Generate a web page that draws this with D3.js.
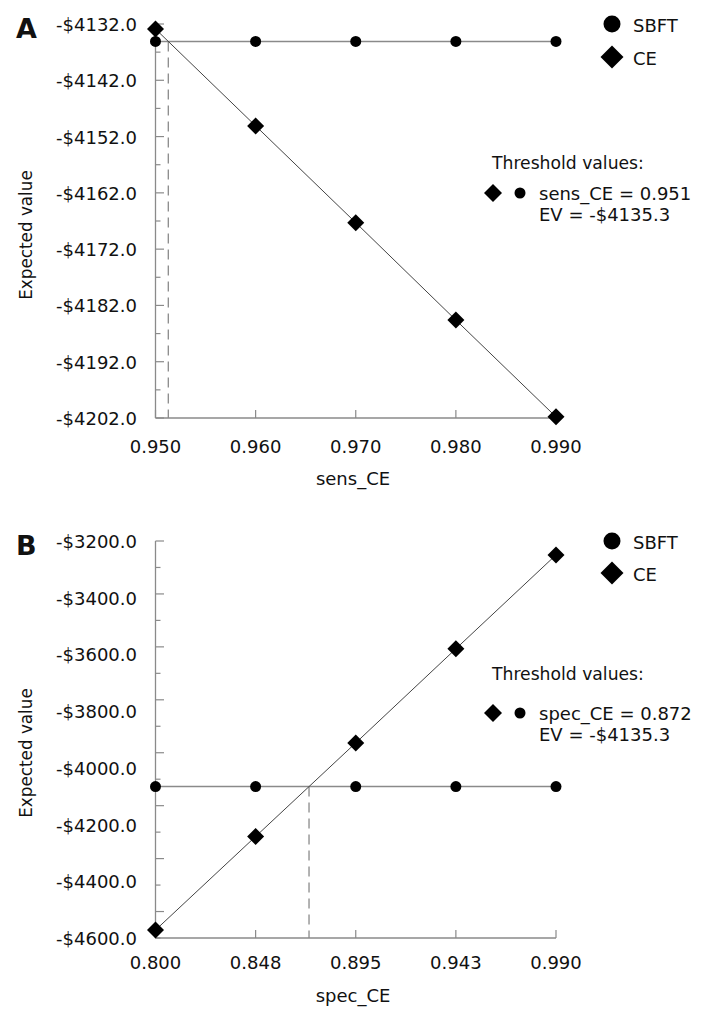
<!DOCTYPE html>
<html>
<head>
<meta charset="utf-8">
<script src="https://cdn.jsdelivr.net/npm/d3@7"></script>
<style>
  html, body { margin: 0; padding: 0; background: #fff; }
  svg text { font-family: "DejaVu Sans", Verdana, sans-serif; fill: #111; }
</style>
</head>
<body>
<svg id="chart" width="709" height="1015"></svg>
<script>
// ---------- Data ----------
// Panel A: sensitivity of CE
const sensX = [0.950, 0.960, 0.970, 0.980, 0.990];
const sensXLabels = ["0.950", "0.960", "0.970", "0.980", "0.990"];
const sensSBFT = [-4135.1, -4135.1, -4135.1, -4135.1, -4135.1];
const sensCE = [-4132.9, -4150.1, -4167.3, -4184.6, -4201.8];
const sensYValues = [-4132, -4142, -4152, -4162, -4172, -4182, -4192, -4202];
const sensYLabels = ["-$4132.0", "-$4142.0", "-$4152.0", "-$4162.0", "-$4172.0", "-$4182.0", "-$4192.0", "-$4202.0"];
const sensThresholdText = ["sens_CE = 0.951", "EV = -$4135.3"];

// Panel B: specificity of CE
const specX = [0.800, 0.8475, 0.895, 0.9425, 0.990];
const specXLabels = ["0.800", "0.848", "0.895", "0.943", "0.990"];
const specSBFT = [-4066, -4066, -4066, -4066, -4066];
const specCE = [-4572, -4242, -3912, -3580, -3249];
const specYValues = [-3200, -3400, -3600, -3800, -4000, -4200, -4400, -4600];
const specYLabels = ["-$3200.0", "-$3400.0", "-$3600.0", "-$3800.0", "-$4000.0", "-$4200.0", "-$4400.0", "-$4600.0"];
const specThresholdText = ["spec_CE = 0.872", "EV = -$4135.3"];

const seriesNames = ["SBFT", "CE"];

// ---------- Drawing ----------
const svg = d3.select("#chart");
const axisColor = "#8a8a8a";

function diamondPath(cx, cy, h) {
  return `M${cx},${cy - h}L${cx + h},${cy}L${cx},${cy + h}L${cx - h},${cy}Z`;
}

// crossing point of the two series (threshold) from the data
function crossing(xs, a, b) {
  for (let i = 0; i < xs.length - 1; i++) {
    const d0 = a[i] - b[i], d1 = a[i + 1] - b[i + 1];
    if (d0 === 0) return [xs[i], a[i]];
    if (d0 * d1 < 0) {
      const t = d0 / (d0 - d1);
      return [xs[i] + t * (xs[i + 1] - xs[i]), a[i] + t * (a[i + 1] - a[i])];
    }
  }
  return [xs[0], a[0]];
}

function drawPanel(p) {
  const g = svg.append("g");
  const x = d3.scaleLinear().domain([p.xs[0], p.xs[p.xs.length - 1]]).range([p.left, p.right]);
  const y = d3.scaleLinear().domain([p.yDomain[0], p.yDomain[1]]).range([p.bottom, p.top]);

  // panel letter
  g.append("text").attr("x", 16).attr("y", p.letterY)
    .style("font-weight", "bold").style("font-size", "27px").text(p.letter);

  // y axis line + ticks
  g.append("line").attr("x1", p.left).attr("x2", p.left).attr("y1", p.top).attr("y2", p.bottom)
    .attr("stroke", axisColor).attr("stroke-width", 1.3);
  const nT = p.nTicks;
  const tickVals = d3.range(nT).map(i => p.yDomain[1] - i * (p.yDomain[1] - p.yDomain[0]) / (nT - 1));
  g.selectAll(".yt").data(tickVals).enter().append("line")
    .attr("x1", p.left).attr("x2", (d, i) => p.left + (i % 2 === 0 ? 8.5 : 5))
    .attr("y1", d => y(d)).attr("y2", d => y(d))
    .attr("stroke", axisColor).attr("stroke-width", 1.2);
  g.selectAll(".yl").data(p.yValues).enter().append("text")
    .attr("x", 137).attr("y", d => y(d) + 7)
    .attr("text-anchor", "end").style("font-size", "18px")
    .text((d, i) => p.yLabels[i]);

  // x axis line + ticks
  g.append("line").attr("x1", p.left).attr("x2", p.right).attr("y1", p.bottom).attr("y2", p.bottom)
    .attr("stroke", axisColor).attr("stroke-width", 1.3);
  g.selectAll(".xt").data(p.xs).enter().append("line")
    .attr("x1", d => x(d)).attr("x2", d => x(d))
    .attr("y1", p.bottom).attr("y2", p.bottom - 8)
    .attr("stroke", axisColor).attr("stroke-width", 1.2);
  g.selectAll(".xl").data(p.xs).enter().append("text")
    .attr("x", d => x(d)).attr("y", p.bottom + p.xLabelOff)
    .attr("text-anchor", "middle").style("font-size", "18px")
    .text((d, i) => p.xLabels[i]);

  // axis titles
  g.append("text").attr("x", 353).attr("y", p.bottom + p.xTitleOff)
    .attr("text-anchor", "middle").style("font-size", "18px").text(p.xTitle);
  g.append("text")
    .attr("transform", `translate(32,${p.yTitleY}) rotate(-90)`)
    .attr("text-anchor", "middle").style("font-size", "16.8px").text("Expected value");

  // threshold dashed line
  const cr = crossing(p.xs, p.ce, p.sbft);
  g.append("line")
    .attr("x1", x(cr[0])).attr("x2", x(cr[0]))
    .attr("y1", y(cr[1])).attr("y2", p.bottom)
    .attr("stroke", "#8a8a8a").attr("stroke-width", 1.3).attr("stroke-dasharray", "10,6");

  // SBFT line
  const line = d3.line().x(d => x(d[0])).y(d => y(d[1]));
  g.append("path").datum(p.xs.map((d, i) => [d, p.sbft[i]]))
    .attr("d", line).attr("fill", "none").attr("stroke", "#8a8a8a").attr("stroke-width", 1.6);
  // CE line
  g.append("path").datum(p.xs.map((d, i) => [d, p.ce[i]]))
    .attr("d", line).attr("fill", "none").attr("stroke", "#444").attr("stroke-width", 1);

  // SBFT points
  g.selectAll(".sp").data(p.xs).enter().append("circle")
    .attr("cx", d => x(d)).attr("cy", (d, i) => y(p.sbft[i])).attr("r", 5.5).attr("fill", "#000");
  // CE points
  g.selectAll(".cp").data(p.xs).enter().append("path")
    .attr("d", (d, i) => diamondPath(x(d), y(p.ce[i]), 8.5)).attr("fill", "#000");

  // legend
  const L = p.legend;
  g.append("circle").attr("cx", 612).attr("cy", L.sbftY).attr("r", 8.5).attr("fill", "#000");
  g.append("text").attr("x", 633).attr("y", L.sbftY + 7.5).style("font-size", "18px").text(seriesNames[0]);
  g.append("path").attr("d", diamondPath(612, L.ceY, 11.5)).attr("fill", "#000");
  g.append("text").attr("x", 633).attr("y", L.ceY + 7.5).style("font-size", "18px").text(seriesNames[1]);

  g.append("text").attr("x", 492).attr("y", L.thY).style("font-size", "17.2px").text("Threshold values:");
  g.append("path").attr("d", diamondPath(493, L.rowY, 9)).attr("fill", "#000");
  g.append("circle").attr("cx", 520).attr("cy", L.rowY).attr("r", 5.5).attr("fill", "#000");
  g.append("text").attr("x", 539).attr("y", L.rowY + 7).style("font-size", "18px").text(p.thText[0]);
  g.append("text").attr("x", 539).attr("y", L.rowY + 28).style("font-size", "18px").text(p.thText[1]);
}

drawPanel({
  letter: "A", letterY: 38,
  xs: sensX, xLabels: sensXLabels, sbft: sensSBFT, ce: sensCE,
  yValues: sensYValues, yLabels: sensYLabels,
  yDomain: [-4202, -4132], nTicks: 15,
  left: 155.5, right: 556, top: 24, bottom: 418,
  xLabelOff: 34.5, xTitleOff: 67, yTitleY: 235,
  xTitle: "sens_CE", thText: sensThresholdText,
  legend: { sbftY: 24, ceY: 57, thY: 169, rowY: 193 }
});

drawPanel({
  letter: "B", letterY: 555,
  xs: specX, xLabels: specXLabels, sbft: specSBFT, ce: specCE,
  yValues: specYValues, yLabels: specYLabels,
  yDomain: [-4600, -3200], nTicks: 16,
  left: 155.5, right: 556, top: 541, bottom: 938,
  xLabelOff: 31, xTitleOff: 64, yTitleY: 753,
  xTitle: "spec_CE", thText: specThresholdText,
  legend: { sbftY: 541, ceY: 573, thY: 680, rowY: 713 }
});
</script>
</body>
</html>
